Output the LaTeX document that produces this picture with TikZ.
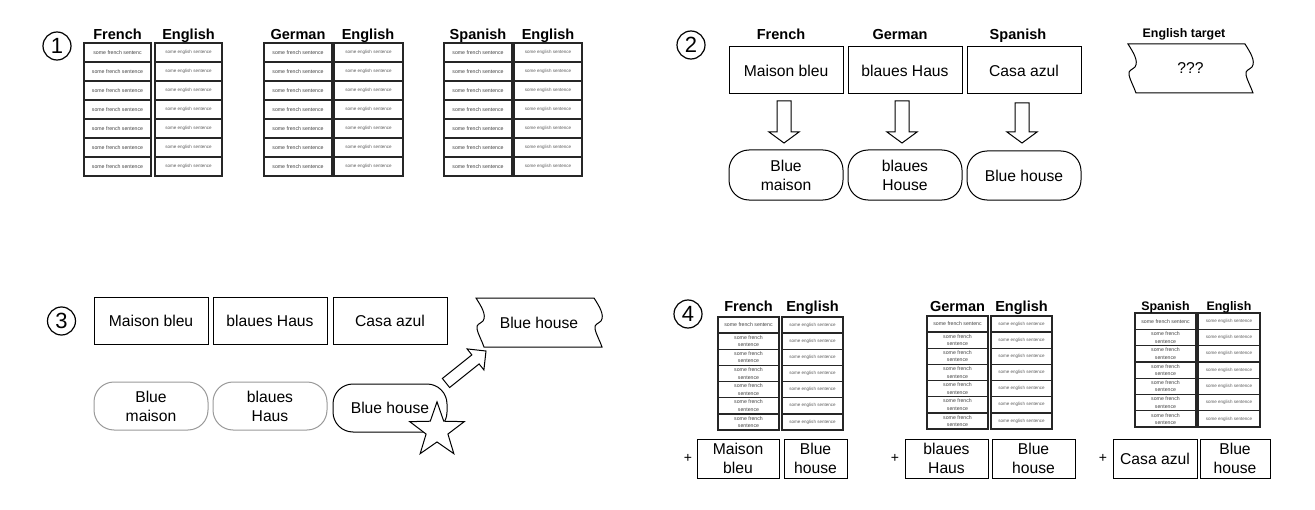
\documentclass[tikz,border=0pt]{standalone}
\usepackage{fontspec}
\setmainfont{Liberation Sans}
\usetikzlibrary{shapes.geometric,calc}
\newcommand\bx[7]{\node[#7, minimum width={((#4)-(#2))*0.75pt}, minimum height={((#5)-(#3))*0.75pt}] (#1) at ({((#2)+(#4))/2},{((#3)+(#5))/2}) {#6};}
\newcommand\mktable[9]{%
 \bx{#1l1}{#2}{#6}{#3}{(#6)+(#7)}{#8}{cell}
 \foreach \i in {2,...,7}{\bx{#1l\i}{#2}{(#6)+(\i-1)*(#7)}{#3}{(#6)+\i*(#7)}{#9}{cell}}
 \foreach \i in {1,...,7}{\bx{#1r\i}{#4}{(#6)+(\i-1)*(#7)}{#5}{(#6)+\i*(#7)}{some english sentence}{ecell}}
}
\newcommand\tapeout[2]{%
 \draw[line width=0.75pt, shift={(#1.north west)}] (0,0) -- (#2,0)
  .. controls ({#2+5},8) and ({#2+11},17) .. ({#2+7},23)
  .. controls ({#2+4},26) and ({#2},26) .. ({#2+1},31)
  .. controls ({#2+2},36) and ({#2+6},43) .. ({#2+8},49)
  -- (8,49) .. controls (6,43) and (2,36) .. (1,31)
  .. controls (0,26) and (4,26) .. (7,23)
  .. controls (11,17) and (5,8) .. (0,0) -- cycle;}
\newcommand\blkarrow[5]{%
 \draw[blockarr] let \p1=(#1), \p2=(#2), \n1={atan2(\y2-\y1,\x2-\x1)}, \n2={veclen(\x2-\x1,\y2-\y1)} in
  [shift={(\x1,\y1)}, rotate=\n1]
  (0pt,-#3) -- ({\n2-#5},-#3) -- ({\n2-#5},-#4) -- ({\n2},0pt) -- ({\n2-#5},#4) -- ({\n2-#5},#3) -- (0pt,#3) -- cycle;}
\begin{document}
\begin{tikzpicture}[x=0.75pt,y=-0.75pt,
 every node/.style={inner sep=0pt, outer sep=0pt},
 cell/.style={draw=black!85, line width=1pt, font=\fontsize{3.9}{5.6}\selectfont, text=black!75, align=center},
 ecell/.style={cell, font=\fontsize{3.4}{4.2}\selectfont, text=black!65},
 hdr/.style={font=\bfseries\fontsize{10.9}{12}\selectfont, anchor=base},
 shdr/.style={font=\bfseries\fontsize{9.3}{11}\selectfont, anchor=base},
 box/.style={draw, line width=0.75pt, font=\fontsize{11.75}{14.3}\selectfont, align=center},
 rbox/.style={box, rounded corners=15pt},
 gbox/.style={rbox, draw=black!40},
 tapebox/.style={font=\fontsize{11.75}{14.3}\selectfont, align=center},
 blockarr/.style={draw, line width=0.75pt, fill=white, line join=miter},
 numcirc/.style={circle, draw, line width=0.9pt, minimum size=21pt, font=\fontsize{16.5}{18}\selectfont},
 plus/.style={font=\fontsize{10.5}{12}\selectfont},
 starshape/.style={star, star points=5, star point ratio=2.5, draw, fill=white, line width=0.75pt, minimum size=43pt}
]
\useasboundingbox (0,0) rectangle (1315,510);

% ---------- Panel 1 ----------
\node[numcirc] (n1) at (57,46) {1};
\mktable{p1f}{84}{151}{155}{222}{43}{19}{some french sentenc}{some french sentence}
\mktable{p1g}{264}{332}{334}{403}{43}{19}{some french sentence}{some french sentence}
\mktable{p1s}{444}{512}{514}{582}{43}{19}{some french sentence}{some french sentence}
\node[hdr] (h1a) at (117.5,39.5) {French};
\node[hdr] (h1b) at (188.5,39.5) {English};
\node[hdr] (h1c) at (298,39.5) {German};
\node[hdr] (h1d) at (368,39.5) {English};
\node[hdr] (h1e) at (478,39.5) {Spanish};
\node[hdr] (h1f) at (548,39.5) {English};

% ---------- Panel 2 ----------
\node[numcirc] (n2) at (691,45) {2};
\node[hdr] (h2a) at (781,39.3) {French};
\node[hdr] (h2b) at (900,39.3) {German};
\node[hdr] (h2c) at (1018,39.3) {Spanish};
\node[shdr] (h2d) at (1184,37.3) {English target};
\bx{b2f}{729}{47}{843}{94}{Maison bleu}{box}
\bx{b2g}{848}{47}{962}{94}{blaues Haus}{box}
\bx{b2s}{967}{47}{1081}{94}{Casa azul}{box}
\bx{r2f}{729}{150}{843}{200}{Blue\\maison}{rbox}
\bx{r2g}{848}{150}{962}{200}{blaues\\House}{rbox}
\bx{r2s}{967}{151}{1081}{200}{Blue house}{rbox}
\blkarrow{$(b2f.south)+(-2,7)$}{$(r2f.north)+(-2,-7)$}{5.25pt}{11.25pt}{8.25pt}
\blkarrow{$(b2g.south)+(-3,7)$}{$(r2g.north)+(-3,-7)$}{5.25pt}{11.25pt}{8.25pt}
\blkarrow{$(b2s.south)+(-2,9)$}{$(r2s.north)+(-2,-8)$}{5.25pt}{11.25pt}{8.25pt}
\bx{tp2}{1128}{44}{1253}{93}{???}{tapebox}
\tapeout{tp2}{117}

% ---------- Panel 3 ----------
\node[numcirc] (n3) at (61.5,321) {3};
\bx{b3f}{94}{297}{208}{344}{Maison bleu}{box}
\bx{b3g}{213}{297}{327}{344}{blaues Haus}{box}
\bx{b3s}{333}{297}{447}{344}{Casa azul}{box}
\bx{r3f}{94}{382}{208}{430}{Blue\\maison}{gbox}
\bx{r3g}{213}{382}{327}{430}{blaues\\Haus}{gbox}
\bx{r3s}{333}{384}{447}{432}{Blue house}{rbox}
\bx{tp3}{476}{298}{602}{347}{Blue house}{tapebox}
\tapeout{tp3}{118}
\blkarrow{$(r3s.north east)+(-1,-1)$}{$(tp3.south west)+(10,4)$}{4.35pt}{10.1pt}{10.1pt}
\node[starshape] (st3) at (437,430.5) {};

% ---------- Panel 4 ----------
\node[numcirc] (n4) at (688,314) {4};
\mktable{p4f}{718}{779}{782}{843}{317}{16.14}{some french sentenc}{some french\\sentence}
\mktable{p4g}{927}{988}{991}{1052}{316}{16.14}{some french sentenc}{some french\\sentence}
\mktable{p4s}{1135}{1196}{1198}{1260}{313}{16.3}{some french sentenc}{some french\\sentence}
\node[hdr] (h4a) at (748.5,311.7) {French};
\node[hdr] (h4b) at (812.5,311.7) {English};
\node[hdr] (h4c) at (957.5,311.7) {German};
\node[hdr] (h4d) at (1021.5,311.7) {English};
\node[shdr] (h4e) at (1165.5,310) {Spanish};
\node[shdr] (h4f) at (1229,310) {English};
\bx{p4fa}{697}{439}{779}{478}{Maison\\bleu}{box}
\bx{p4fb}{784}{439}{847}{478}{Blue\\house}{box}
\bx{p4ga}{905}{439}{988}{478}{blaues\\Haus}{box}
\bx{p4gb}{992}{439}{1075}{478}{Blue\\house}{box}
\bx{p4sa}{1113}{439}{1197}{478}{Casa azul}{box}
\bx{p4sb}{1200}{439}{1270}{478}{Blue\\house}{box}
\node[plus] (pl1) at (688,458) {+};
\node[plus] (pl2) at (895,458) {+};
\node[plus] (pl3) at (1103,458) {+};
\end{tikzpicture}
\end{document}
